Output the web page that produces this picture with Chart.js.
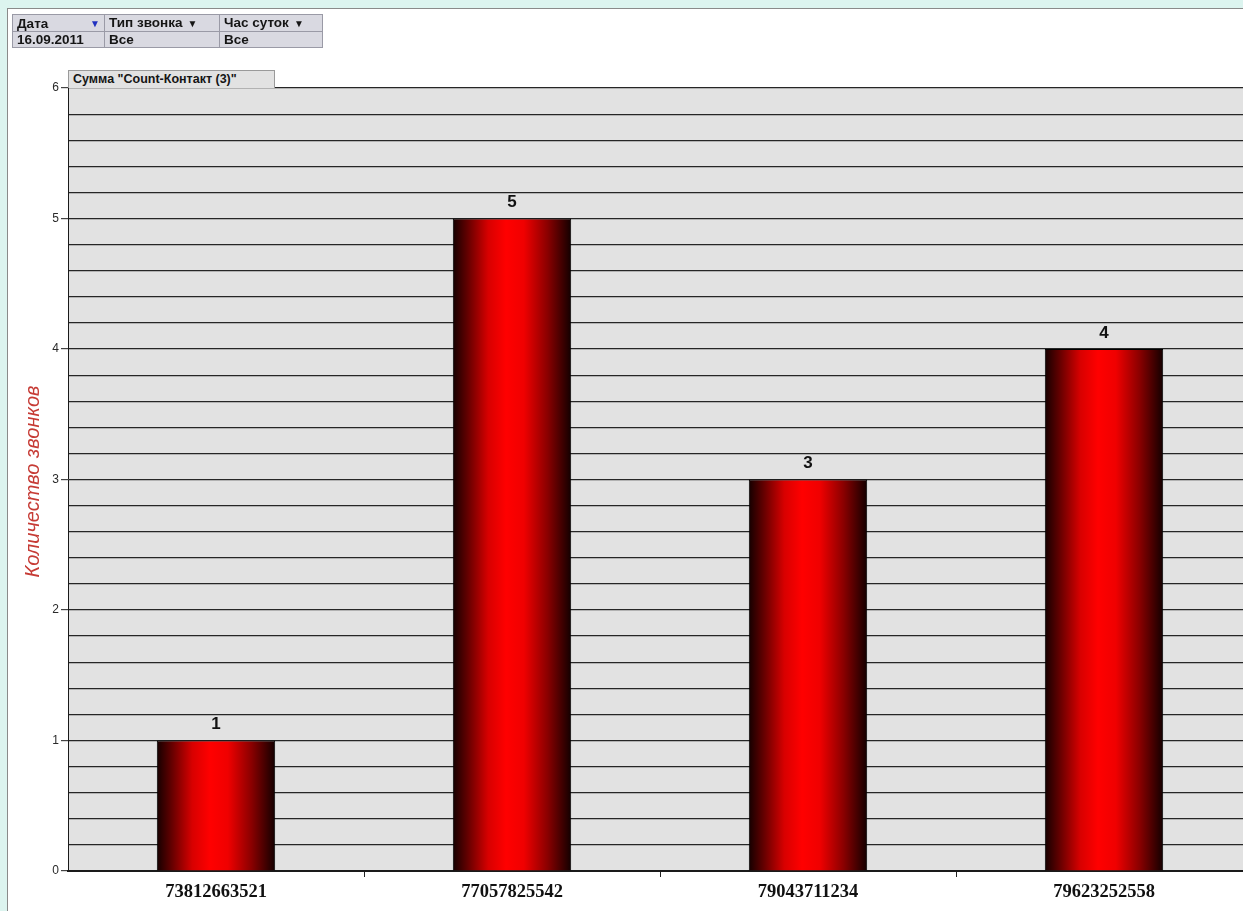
<!DOCTYPE html>
<html>
<head>
<meta charset="utf-8">
<script src="https://cdn.jsdelivr.net/npm/chart.js@4.4.1/dist/chart.umd.min.js"></script>
<style>
  html, body { margin: 0; padding: 0; width: 1243px; height: 911px; overflow: hidden; background: #dcf4ef; }
  #panel { position: absolute; left: 7px; top: 8px; width: 1300px; height: 1000px; background: #ffffff;
           border-left: 1px solid #8a8a8a; border-top: 1px solid #8a8a8a; }
  #wrap { position: absolute; left: 0; top: 0; width: 1262px; height: 911px; }
  #hdr { position: absolute; left: 12px; top: 14px; border-collapse: collapse; font: bold 13.5px "Liberation Sans", Arial, sans-serif; color: #151515; }
  #hdr td { background: #d9d9e1; border: 1px solid #9a9aa6; height: 15px; padding: 0 4px; line-height: 15px; white-space: nowrap; }
  .arr { font-size: 10px; margin-left: 5px; }
  #btn { position: absolute; left: 68px; top: 70px; width: 201px; height: 17px; background: #e2e2e2; border: 1px solid #9a9a9a;
         border-bottom: none; font: bold 12.5px "Liberation Sans", Arial, sans-serif; color: #151515; line-height: 17px; padding-left: 4px; }
</style>
</head>
<body>
<div id="panel"></div>
<div id="wrap"><canvas id="c" width="1262" height="911"></canvas></div>
<table id="hdr">
  <tr><td style="width:83px">Дата<span class="arr" style="color:#2030c0;float:right;">▼</span></td><td style="width:106px">Тип звонка<span class="arr">▼</span></td><td style="width:94px">Час суток<span class="arr">▼</span></td></tr>
  <tr><td>16.09.2011</td><td>Все</td><td>Все</td></tr>
</table>
<div id="btn">Сумма "Count-Контакт (3)"</div>
<script>
const categories = ['73812663521', '77057825542', '79043711234', '79623252558'];
const callCounts = [1, 5, 3, 4];
const yAxisTitle = 'Количество звонков';

const isInt = v => Math.abs(v - Math.round(v)) < 1e-6;

function barGradient(ctx) {
  const chart = ctx.chart;
  const xs = chart.scales && chart.scales.x;
  if (!xs || !chart.chartArea || ctx.dataIndex === undefined) return '#ff0000';
  const center = xs.getPixelForValue(ctx.dataIndex);
  const w = (xs.width / categories.length) * 0.4;
  const g = chart.ctx.createLinearGradient(center - w / 2, 0, center + w / 2, 0);
  g.addColorStop(0.0, '#140000');
  g.addColorStop(0.12, '#600000');
  g.addColorStop(0.3, '#d80000');
  g.addColorStop(0.45, '#ff0000');
  g.addColorStop(0.6, '#f00000');
  g.addColorStop(0.8, '#8a0000');
  g.addColorStop(1.0, '#120000');
  return g;
}

const plotBg = {
  id: 'plotBg',
  beforeDraw(chart) {
    const { ctx, chartArea: a } = chart;
    ctx.save();
    ctx.fillStyle = '#e2e2e2';
    ctx.fillRect(a.left, a.top, a.right - a.left, a.bottom - a.top);
    ctx.restore();
  }
};

const valueLabels = {
  id: 'valueLabels',
  afterDatasetsDraw(chart) {
    const { ctx } = chart;
    const meta = chart.getDatasetMeta(0);
    ctx.save();
    ctx.font = 'bold 17px "Liberation Sans", Arial, sans-serif';
    ctx.fillStyle = '#111111';
    ctx.textAlign = 'center';
    ctx.textBaseline = 'middle';
    meta.data.forEach((el, i) => {
      ctx.fillText(String(callCounts[i]), el.x, el.y - 16);
    });
    ctx.restore();
  }
};

const axisTitle = {
  id: 'axisTitle',
  afterDraw(chart) {
    const { ctx, chartArea: a } = chart;
    ctx.save();
    ctx.translate(33, (a.top + a.bottom) / 2 + 2);
    ctx.rotate(-Math.PI / 2);
    ctx.font = 'italic 20px "Liberation Sans", Arial, sans-serif';
    ctx.fillStyle = '#c63b35';
    ctx.textAlign = 'center';
    ctx.textBaseline = 'middle';
    ctx.fillText(yAxisTitle, 0, 0);
    ctx.restore();
  }
};

new Chart(document.getElementById('c'), {
  type: 'bar',
  data: {
    labels: categories,
    datasets: [{
      data: callCounts,
      backgroundColor: barGradient,
      borderColor: '#000000',
      borderWidth: 1,
      categoryPercentage: 0.4,
      barPercentage: 1.0
    }]
  },
  options: {
    responsive: false,
    animation: false,
    events: [],
    layout: { padding: { left: 8, top: 88, right: 10, bottom: 0 } },
    plugins: { legend: { display: false }, tooltip: { enabled: false } },
    scales: {
      x: {
        offset: true,
        afterFit(s) { s.height = 40; },
        grid: {
          offset: true,
          drawOnChartArea: false,
          tickLength: 6,
          tickColor: c => (c.index === 0 ? 'rgba(0,0,0,0)' : '#222222'),
          lineWidth: 1
        },
        border: { color: '#1a1a1a', width: 2 },
        ticks: {
          color: '#111111',
          padding: 4,
          font: { family: '"Liberation Serif", "Times New Roman", serif', size: 18.5, weight: 'bold' },
          maxRotation: 0
        }
      },
      y: {
        min: 0,
        max: 6,
        afterFit(s) { s.width = 60; },
        grid: {
          color: '#262626',
          lineWidth: 1.2,
          tickLength: 7,
          tickColor: c => (c.tick && isInt(c.tick.value) ? '#444444' : 'rgba(0,0,0,0)')
        },
        border: { color: '#1a1a1a', width: 1 },
        ticks: {
          stepSize: 0.2,
          autoSkip: false,
          color: '#2a2a2a',
          padding: 2,
          font: { family: '"Liberation Sans", Arial, sans-serif', size: 12 },
          callback: v => (isInt(v) ? String(Math.round(v)) : '')
        }
      }
    }
  },
  plugins: [plotBg, valueLabels, axisTitle]
});
</script>
</body>
</html>
